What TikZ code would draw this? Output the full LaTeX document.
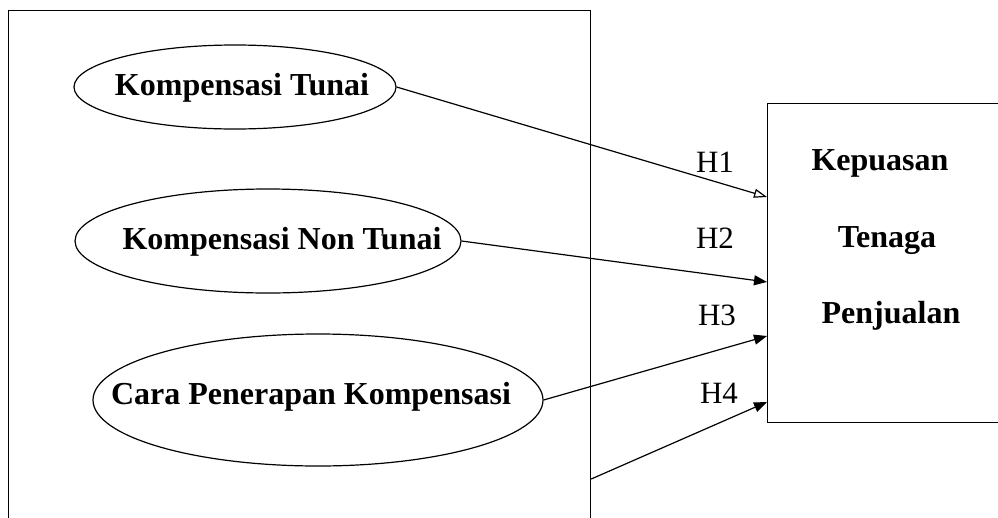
\documentclass[tikz,border=0pt]{standalone}
\usepackage{fontspec}
\setmainfont{Liberation Serif}
\usetikzlibrary{shapes.geometric,arrows.meta}
\begin{document}
\begin{tikzpicture}[x=1pt,y=-1pt,
  construct/.style={draw, ellipse, line width=1.2pt, inner sep=0pt},
  frame/.style={draw, line width=1.2pt, inner sep=0pt},
  boldtext/.style={anchor=base, inner sep=0pt, font=\fontsize{32}{38}\selectfont\bfseries},
  hyp/.style={anchor=base, inner sep=0pt, font=\fontsize{31}{37}\selectfont},
  link/.style={line width=1.2pt, -{Triangle[length=13pt,width=10pt]}},
  openlink/.style={line width=1.2pt, -{Triangle[open,length=13pt,width=9pt,line width=1.2pt]}}]
\useasboundingbox (0,0) rectangle (998,517);
\fill[white] (0,0) rectangle (998,517);
\clip (0,0) rectangle (998,517);

% independent variables grouped in an open-bottom frame
\node[frame, anchor=north west, minimum width=582pt, minimum height=560pt] (grp) at (8,10) {};

% dependent variable box
\node[frame, anchor=north west, minimum width=280pt, minimum height=319pt] (sat) at (767,103) {};
\node[boldtext] (s1) at (880,170) {Kepuasan};
\node[boldtext] (s2) at (887,247) {Tenaga};
\node[boldtext] (s3) at (891,323) {Penjualan};

% constructs
\node[construct, minimum width=322pt, minimum height=84pt] (k1) at (235,87) {};
\node[construct, minimum width=386pt, minimum height=104pt] (k2) at (268,241) {};
\node[construct, minimum width=450pt, minimum height=132pt] (k3) at (318,400) {};
\node[boldtext] (k1t) at (242,95) {Kompensasi Tunai};
\node[boldtext] (k2t) at (282,249) {Kompensasi Non Tunai};
\node[boldtext] (k3t) at (311,404) {Cara Penerapan Kompensasi};

% hypothesised paths
\draw[openlink] (k1.east) -- ([yshift=-94pt]sat.north west);
\draw[link] (k2.east) -- ([yshift=-179pt]sat.north west);
\draw[link] (k3.east) -- ([yshift=-233pt]sat.north west);
\draw[link] ([yshift=-469pt]grp.north east) -- ([yshift=-299pt]sat.north west);

\node[hyp] (h1) at (715,172) {H1};
\node[hyp] (h2) at (715,248) {H2};
\node[hyp] (h3) at (717,325) {H3};
\node[hyp] (h4) at (719,403) {H4};
\end{tikzpicture}
\end{document}
